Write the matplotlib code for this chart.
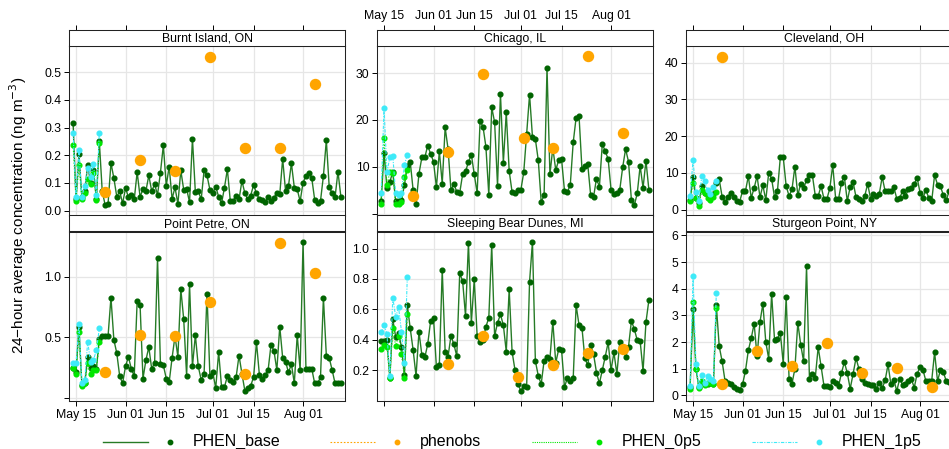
import numpy as np
import pandas as pd
import matplotlib
matplotlib.use("Agg")
import matplotlib.pyplot as plt

plt.rcParams['font.family'] = ['Liberation Sans', 'DejaVu Sans']

# ---------------- daily series, 14 May .. 14 Aug
days = pd.date_range("2016-05-14", periods=93, freq="D")
sites = ["Burnt Island, ON", "Chicago, IL", "Cleveland, OH",
         "Point Petre, ON", "Sleeping Bear Dunes, MI", "Sturgeon Point, NY"]

burnt_base = [0.316, 0.04, 0.204, 0.05, 0.07, 0.165, 0.10, 0.147, 0.04, 0.25,
              0.07, 0.02, 0.024, 0.172, 0.117, 0.05, 0.07, 0.026, 0.08, 0.05,
              0.057, 0.04, 0.139, 0.05, 0.077, 0.07, 0.127, 0.07, 0.095, 0.057,
              0.137, 0.236, 0.09, 0.159, 0.042, 0.084, 0.024, 0.145, 0.075, 0.078,
              0.03, 0.26, 0.066, 0.07, 0.04, 0.145, 0.127, 0.075, 0.063, 0.086,
              0.05, 0.026, 0.083, 0.149, 0.035, 0.035, 0.054, 0.04, 0.107, 0.063,
              0.04, 0.054, 0.092, 0.063, 0.04, 0.039, 0.03, 0.05, 0.035, 0.045,
              0.065, 0.059, 0.187, 0.069, 0.089, 0.171, 0.083, 0.077, 0.033, 0.101,
              0.125, 0.137, 0.117, 0.039, 0.029, 0.035, 0.125, 0.254, 0.084, 0.063,
              0.048, 0.141, 0.05]
burnt_0p5 = [0.237, 0.036, 0.165, 0.042, 0.065, 0.114, 0.096, 0.135, 0.039, 0.243]
burnt_1p5 = [0.28, 0.048, 0.219, 0.048, 0.089, 0.153, 0.12, 0.169, 0.057, 0.28]
burnt_obs_day = [11, 23, 35, 47, 59, 71, 83]
burnt_obs = [0.066, 0.181, 0.143, 0.557, 0.225, 0.225, 0.459]

chicago_base = [2.6, 13.0, 5.5, 6.8, 8.9, 2.6, 2.6, 2.9, 6.1, 10.1,
                11.1, 5.0, 2.0, 8.5, 12.0, 12.0, 14.5, 12.8, 11.1, 5.6,
                13.3, 6.4, 18.4, 13.8, 5.0, 6.4, 4.6, 4.4, 8.4, 9.0,
                11.0, 12.6, 8.4, 4.4, 19.7, 18.6, 14.3, 4.0, 22.7, 19.5,
                5.9, 25.6, 10.9, 21.6, 9.1, 4.6, 4.4, 5.1, 5.0, 8.8,
                17.0, 25.4, 16.4, 15.9, 11.4, 2.5, 3.9, 31.1, 8.4, 14.0,
                9.3, 11.4, 11.6, 4.9, 4.6, 6.2, 15.2, 20.5, 20.9, 9.6,
                10.2, 10.5, 3.9, 3.6, 7.5, 5.7, 14.9, 13.3, 11.7, 5.1,
                4.1, 4.3, 5.1, 9.9, 13.8, 11.1, 2.9, 1.8, 4.3, 10.2,
                5.5, 11.3, 5.1]
chicago_0p5 = [2.0, 16.2, 6.2, 8.8, 8.7, 2.1, 2.0, 2.5, 7.9, 9.4]
chicago_1p5 = [4.4, 22.6, 8.8, 12.1, 12.4, 4.3, 3.9, 4.4, 10.4, 12.6]
chicago_obs_day = [11, 23, 35, 49, 59, 71, 83]
chicago_obs = [3.8, 13.1, 29.9, 16.2, 14.0, 33.6, 17.2]

cleveland_base = [2.7, 8.9, 3.2, 1.8, 6.4, 4.6, 4.1, 3.2, 4.3, 7.3,
                  8.2, 3.5, 2.1, 3.4, 4.6, 3.5, 2.3, 2.1, 5.0, 5.0,
                  9.1, 3.2, 5.9, 9.1, 3.4, 6.6, 2.6, 10.0, 8.4, 3.4,
                  5.0, 14.3, 14.2, 6.4, 3.7, 5.5, 11.7, 3.9, 7.1, 5.9,
                  8.0, 9.4, 9.4, 3.8, 3.7, 6.4, 2.9, 2.9, 5.8, 12.1,
                  3.0, 2.9, 7.3, 8.9, 2.3, 6.2, 7.5, 3.4, 3.0, 2.3,
                  3.7, 7.0, 3.0, 4.3, 3.7, 4.3, 8.9, 5.0, 5.0, 5.0,
                  6.1, 3.0, 3.2, 5.0, 3.7, 5.5, 5.9, 7.0, 8.7, 4.6,
                  3.2, 5.3, 3.2, 2.3, 9.4, 6.8, 6.4, 3.9, 2.6, 5.0]
cleveland_0p5 = [2.3, 7.3, 3.2, 1.1, 5.2, 4.6, 3.2, 2.6, 3.4, 4.8]
cleveland_1p5 = [3.8, 13.4, 4.7, 2.3, 9.1, 7.8, 5.2, 4.3, 6.1, 7.8]
cleveland_obs_day = [11]
cleveland_obs = [41.6]

petre_base = [0.25, 0.21, 0.59, 0.11, 0.12, 0.34, 0.25, 0.26, 0.24, 0.49,
              0.51, 0.51, 0.51, 0.83, 0.48, 0.37, 0.18, 0.12, 0.26, 0.34,
              0.24, 0.18, 0.80, 0.77, 0.16, 0.31, 0.42, 0.24, 0.29, 1.16,
              0.28, 0.27, 0.16, 0.13, 0.33, 0.51, 0.34, 0.90, 0.65, 0.18,
              0.94, 0.26, 0.52, 0.26, 0.15, 0.20, 0.86, 0.18, 0.21, 0.08,
              0.38, 0.09, 0.09, 0.18, 0.15, 0.13, 0.17, 0.35, 0.20, 0.06,
              0.08, 0.10, 0.17, 0.46, 0.19, 0.16, 0.19, 0.23, 0.44, 0.39,
              0.23, 0.59, 0.33, 0.30, 0.21, 0.28, 0.12, 0.52, 0.23, 1.29,
              0.24, 0.24, 0.24, 0.12, 0.12, 0.17, 0.83, 0.35, 0.33, 0.23,
              0.12, 0.12, 0.12]
petre_0p5 = [0.245, 0.198, 0.547, 0.099, 0.121, 0.286, 0.198, 0.231, 0.231, 0.464]
petre_1p5 = [0.286, 0.286, 0.615, 0.126, 0.148, 0.464, 0.299, 0.313, 0.396, 0.574]
petre_obs_day = [11, 23, 35, 47, 59, 71, 83]
petre_obs = [0.21, 0.52, 0.51, 0.79, 0.20, 1.28, 1.03]

bear_base = [0.394, 0.394, 0.398, 0.147, 0.534, 0.42, 0.442, 0.354, 0.168, 0.628,
             0.475, 0.333, 0.162, 0.453, 0.30, 0.284, 0.37, 0.523, 0.545, 0.219,
             0.234, 0.862, 0.322, 0.29, 0.427, 0.37, 0.293, 0.836, 0.788, 0.556,
             1.037, 0.512, 0.797, 0.424, 0.383, 0.40, 0.486, 0.545, 1.022, 0.424,
             0.512, 0.567, 0.497, 0.322, 0.731, 0.322, 0.201, 0.109, 0.066, 0.096,
             0.092, 0.781, 1.044, 0.26, 0.164, 0.109, 0.263, 0.284, 0.276, 0.519,
             0.249, 0.337, 0.333, 0.088, 0.151, 0.131, 0.147, 0.628, 0.497, 0.481,
             0.278, 0.234, 0.365, 0.306, 0.184, 0.114, 0.201, 0.289, 0.383, 0.201,
             0.317, 0.175, 0.383, 0.344, 0.289, 0.354, 0.525, 0.47, 0.398, 0.392,
             0.195, 0.516, 0.661]
bear_0p5 = [0.339, 0.365, 0.354, 0.147, 0.475, 0.361, 0.427, 0.306, 0.151, 0.573]
bear_1p5 = [0.449, 0.497, 0.438, 0.162, 0.678, 0.551, 0.613, 0.453, 0.249, 0.814]
bear_obs_day = [23, 35, 47, 59, 71, 83]
bear_obs = [0.239, 0.422, 0.158, 0.236, 0.311, 0.337]

sturgeon_base = [0.31, 3.24, 1.0, 0.31, 0.5, 0.44, 0.44, 0.5, 0.41, 3.375,
                 1.84, 1.275, 0.54, 0.475, 0.41, 0.31, 0.25, 0.21, 0.41, 0.91,
                 1.69, 2.15, 2.69, 1.46, 2.75, 3.44, 2.0, 1.375, 3.81, 2.09,
                 2.125, 2.34, 1.19, 3.69, 0.625, 0.44, 1.0, 2.725, 1.9, 1.275,
                 4.85, 0.625, 0.81, 0.66, 1.81, 1.09, 0.35, 0.34, 0.31, 0.54,
                 0.475, 0.35, 0.84, 1.25, 0.84, 0.25, 0.81, 1.4, 1.0, 0.625,
                 0.46, 0.44, 0.4, 0.375, 0.25, 0.475, 0.275, 0.56, 1.16, 0.41,
                 0.59, 0.16, 0.625, 0.4, 0.44, 0.54, 0.625, 0.29, 0.81, 1.06,
                 0.96, 0.54, 0.54, 0.54, 1.625, 0.54, 0.94, 0.875, 0.54, 0.5]
sturgeon_0p5 = [0.25, 3.5, 1.0, 0.275, 0.54, 0.375, 0.46, 0.46, 0.41, 3.275]
sturgeon_1p5 = [0.35, 4.475, 1.19, 0.35, 0.75, 0.475, 0.725, 0.6, 0.54, 3.84]
sturgeon_obs_day = [11, 23, 35, 47, 59, 71, 83]
sturgeon_obs = [0.44, 1.66, 1.09, 1.975, 0.84, 1.01, 0.31]

base = [burnt_base, chicago_base, cleveland_base, petre_base, bear_base, sturgeon_base]
run_0p5 = [burnt_0p5, chicago_0p5, cleveland_0p5, petre_0p5, bear_0p5, sturgeon_0p5]
run_1p5 = [burnt_1p5, chicago_1p5, cleveland_1p5, petre_1p5, bear_1p5, sturgeon_1p5]
obs_day = [burnt_obs_day, chicago_obs_day, cleveland_obs_day, petre_obs_day, bear_obs_day, sturgeon_obs_day]
obs = [burnt_obs, chicago_obs, cleveland_obs, petre_obs, bear_obs, sturgeon_obs]

# free y scales
ylims = [(-0.018, 0.595), (-0.4, 35.8), (-1.6, 44.5),
         (-0.026, 1.376), (-0.002, 1.112), (-0.21, 6.15)]
yticks = [[0, 0.1, 0.2, 0.3, 0.4, 0.5], [0, 10, 20, 30], [0, 10, 20, 30, 40],
          [0, 0.5, 1.0], [0.2, 0.4, 0.6, 0.8, 1.0], [0, 1, 2, 3, 4, 5, 6]]
ylabels = [["0.0", "0.1", "0.2", "0.3", "0.4", "0.5"], ["", "10", "20", "30"],
           ["0", "10", "20", "30", "40"], ["", "0.5", "1.0"],
           ["0.2", "0.4", "0.6", "0.8", "1.0"], ["0", "1", "2", "3", "4", "5", "6"]]

xticks = pd.to_datetime(["2016-05-15", "2016-06-01", "2016-06-15",
                         "2016-07-01", "2016-07-15", "2016-08-01"])
xticklabels = ["May 15", "Jun 01", "Jun 15", "Jul 01", "Jul 15", "Aug 01"]
xlim = (days[0] - pd.Timedelta(hours=34), days[-1] + pd.Timedelta(hours=34))

c_base = "#006400"
c_obs = "#FFA500"
c_0p5 = "#00E600"
c_1p5 = "#3EEAF8"
grid_c = "#E6E6E6"
dashdot = (0, (3, 1.2, 1, 1.2))
fs = 8.8

W, H = 949, 449
fig = plt.figure(figsize=(W / 100, H / 100), dpi=100)


def box(l, t, w, h):
    return fig.add_axes([l / W, 1 - (t + h) / H, w / W, h / H])


lefts = [69, 377, 686]
pw, ph, sh = 276, 169.5, 16
tops = [30, 30 + sh + ph]

for k, site in enumerate(sites):
    row, col = divmod(k, 3)
    l, t = lefts[col], tops[row]
    ax = box(l, t + sh, pw, ph)
    st = box(l, t, pw, sh)

    ax.set_xlim(xlim)
    ax.set_ylim(ylims[k])
    ax.set_xticks(xticks)
    ax.set_yticks(yticks[k])
    ax.set_yticklabels(ylabels[k], fontsize=fs)
    ax.grid(True, color=grid_c, lw=0.9)
    ax.set_axisbelow(True)
    ax.tick_params(axis="y", direction="out", length=3.5, width=0.7, pad=2)

    d = days[:len(base[k])]
    ax.plot(d, base[k], color=c_base, lw=1.0, alpha=0.85, zorder=3)
    ax.plot(d, base[k], ls="none", marker="o", ms=3.4, color=c_base, zorder=4)
    ax.plot(days[obs_day[k]], obs[k], ls="none", marker="o", ms=7.2,
            color=c_obs, zorder=5)
    d10 = days[:len(run_0p5[k])]
    ax.plot(d10, run_0p5[k], color=c_0p5, lw=0.8, ls=":", marker="o", ms=3.4,
            zorder=6)
    ax.plot(d10, run_1p5[k], color=c_1p5, lw=0.8, ls=dashdot, marker="o", ms=3.4,
            zorder=7)

    for s in ax.spines.values():
        s.set_linewidth(0.75)
        s.set_color("#222222")

    # strip with site name
    st.set_xlim(xlim)
    st.set_yticks([])
    st.text(0.5, 0.45, site, transform=st.transAxes, ha="center", va="center",
            fontsize=fs)
    for s in st.spines.values():
        s.set_linewidth(0.75)
        s.set_color("#222222")

    if row == 0:
        ax.tick_params(axis="x", bottom=False, labelbottom=False)
        st.set_xticks(xticks)
        st.xaxis.tick_top()
        st.tick_params(axis="x", direction="out", length=3.5, width=0.7, pad=2)
        if col == 1:
            st.set_xticklabels(xticklabels, fontsize=fs)
        else:
            st.set_xticklabels([])
    else:
        st.set_xticks([])
        ax.tick_params(axis="x", direction="out", length=3.5, width=0.7, pad=2)
        if col == 1:
            ax.set_xticklabels([])
        else:
            ax.set_xticklabels(xticklabels, fontsize=fs)

fig.text(18 / W, 1 - 215 / H, "24\u2212hour average concentration (ng m$^{-3}$)",
         rotation=90, ha="center", va="center", fontsize=11)

# key along the bottom
key = fig.add_axes([0, 0, 1, 1], facecolor="none")
key.set_xlim(0, W)
key.set_ylim(H, 0)
key.axis("off")
names = ["PHEN_base", "phenobs", "PHEN_0p5", "PHEN_1p5"]
colors = [c_base, c_obs, c_0p5, c_1p5]
styles = ["-", (0, (1.5, 1.5)), (0, (1, 1)), dashdot]
key_x = [103, 330, 532, 752]
ky = 441.5
for x0, name, c, ls in zip(key_x, names, colors, styles):
    key.plot([x0, x0 + 45], [ky, ky], color=c, ls=ls,
             lw=1.0 if ls == "-" else 0.8, alpha=0.85 if ls == "-" else 1)
    key.plot([x0 + 67], [ky], ls="none", marker="o", ms=3.2, color=c)
    key.text(x0 + 90, ky, name, ha="left", va="center", fontsize=11.5)

fig.savefig("out.png", dpi=100)
